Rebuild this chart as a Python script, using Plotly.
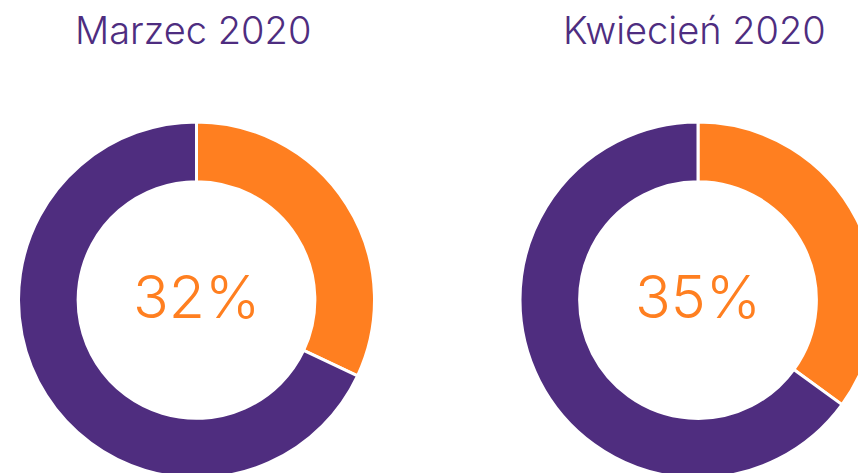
import plotly.graph_objects as go

titles = ["Marzec 2020", "Kwiecień 2020"]
shares = [32, 35]
labels = ["Udział", "Pozostałe"]
orange = "#FF7F20"
purple = "#4F2D7F"

W, H = 1000, 600
# pixel geometry of donuts (centre x, centre y, radius)
centers_x = [196.5, 698.0]
center_y = 300.0
radius = 178.0

fig = go.Figure()
for i, (t, s) in enumerate(zip(titles, shares)):
    cx = centers_x[i]
    fig.add_trace(go.Pie(
        values=[s, 100 - s],
        labels=labels,
        sort=False,
        direction="clockwise",
        rotation=0,
        hole=0.665,
        textinfo="none",
        hoverinfo="label+percent",
        marker=dict(colors=[orange, purple], line=dict(color="white", width=3)),
        domain=dict(x=[(cx - radius) / W, (cx + radius) / W],
                    y=[1 - (center_y + radius) / H, 1 - (center_y - radius) / H]),
        showlegend=False,
    ))
    fig.add_annotation(text=t, x=(cx - 4) / W, y=1 - 30 / H, xref="paper", yref="paper",
                       showarrow=False, xanchor="center", yanchor="middle",
                       font=dict(family="Inter", size=38, color="#4E2D80", weight=300))
    fig.add_annotation(text=f"{s}%", x=cx / W, y=1 - 296 / H, xref="paper", yref="paper",
                       showarrow=False, xanchor="center", yanchor="middle",
                       font=dict(family="Inter", size=59, color=orange, weight=300))

fig.update_layout(width=W, height=H, margin=dict(l=0, r=0, t=0, b=0),
                  paper_bgcolor="white", plot_bgcolor="white")

fig.write_html("out.html", post_script="document.body.style.margin='0';document.body.style.overflow='hidden';")
